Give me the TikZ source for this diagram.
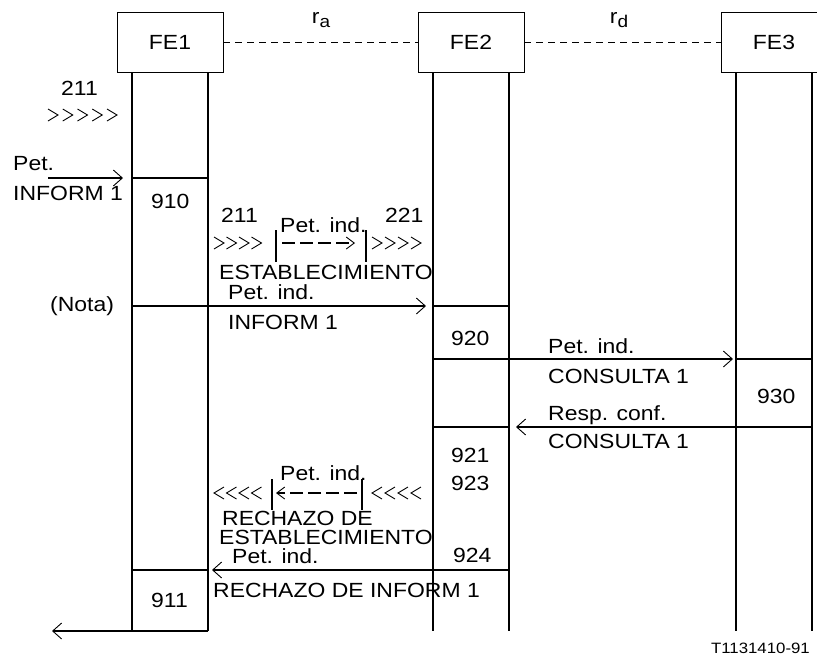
\documentclass[tikz,border=0pt]{standalone}
\usepackage{fontspec}
\setmainfont{Liberation Sans}[FakeStretch=1.12]
\usetikzlibrary{arrows.meta, positioning}

\begin{document}
\begin{tikzpicture}[x=1pt, y=-1pt,
      every node/.style={font=\fontsize{20.5}{24}\selectfont},
      fe/.style={draw, line width=0.9pt, minimum width=106pt,
                 minimum height=60pt, inner sep=0pt},
      link/.style={line width=0.8pt, dash pattern=on 7pt off 5pt},
      life/.style={line width=1.7pt},
      msg/.style={line width=1.7pt,
                  -{Straight Barb[length=9pt, width=16pt, line width=0.9pt]}},
      hop/.style={line width=1.5pt, dash pattern=on 13pt off 5pt,
                  -{Straight Barb[length=8pt, width=12pt, line width=0.9pt]}},
      chev/.style={line width=0.9pt},
      lbl/.style={anchor=base west, inner sep=0pt}]
    \useasboundingbox (0,0) rectangle (817,657);

    % entidades funcionales
    \node[fe] (fe1) at (170,42) {FE1};
    \node[fe] (fe2) at (471,42) {FE2};
    \node[fe] (fe3) at (774,42) {FE3};
    \draw[link] (fe1.east) -- (fe2.west);
    \draw[link] (fe2.east) -- (fe3.west);
    \node (ra) at (321,20) {r\raisebox{-0.35ex}{\fontsize{17}{18}\selectfont a}};
    \node (rd) at (619,20) {r\raisebox{-0.35ex}{\fontsize{17}{18}\selectfont d}};

    % lineas de vida
    \foreach \f in {fe1,fe2,fe3} {
      \draw[life] ([xshift=-38pt]\f.south) -- ++(0,559);
      \draw[life] ([xshift=38pt]\f.south) -- ++(0,559);
    }

    % separaciones de cajas
    \draw[life] (132,178) -- (208,178);
    \draw[life] (433,306) -- (509,306);
    \draw[life] (433,359) -- (509,359);
    \draw[life] (736,359) -- (812,359);
    \draw[life] (433,427) -- (509,427);
    \draw[life] (736,427) -- (812,427);
    \draw[life] (132,570) -- (208,570);

    % mensajes
    \coordinate (m1s) at (48,178);  \coordinate (m1e) at (123,178);
    \coordinate (m2s) at (132,306); \coordinate (m2e) at (426,306);
    \coordinate (m3s) at (509,359); \coordinate (m3e) at (733,359);
    \coordinate (m4s) at (812,427); \coordinate (m4e) at (516,427);
    \coordinate (m5s) at (509,570); \coordinate (m5e) at (212,570);
    \coordinate (m6s) at (208,631); \coordinate (m6e) at (52,631);
    \draw[msg] (m1s) -- (m1e);
    \draw[msg] (m2s) -- (m2e);
    \draw[msg] (m3s) -- (m3e);
    \draw[msg] (m4s) -- (m4e);
    \draw[msg] (m5s) -- (m5e);
    \draw[msg] (m6s) -- (m6e);

    % cadenas de flechas
    \foreach \cx in {53,67.75,82.5,97.25,112}
      \draw[chev] (\cx-5,109) -- (\cx+5,115) -- (\cx-5,121);
    \foreach \cx in {219,231.5,244,256.5,377,390,403,416}
      \draw[chev] (\cx-5,237) -- (\cx+5,243) -- (\cx-5,249);
    \foreach \cx in {219,231.5,244,256.5,377,390,403,416}
      \draw[chev] (\cx+5,487) -- (\cx-5,493) -- (\cx+5,499);

    \coordinate (b1t) at (276,230); \coordinate (b1b) at (276,262);
    \coordinate (b2t) at (366,230); \coordinate (b2b) at (366,262);
    \coordinate (h1s) at (282,243); \coordinate (h1e) at (355,243);
    \draw[line width=1.3pt] (b1t) -- (b1b);
    \draw[line width=1.3pt] (b2t) -- (b2b);
    \draw[hop] (h1s) -- (h1e);

    \coordinate (b3t) at (272,479); \coordinate (b3b) at (272,510);
    \coordinate (b4t) at (362,479); \coordinate (b4b) at (362,510);
    \coordinate (h2s) at (357,493); \coordinate (h2e) at (276,493);
    \draw[line width=1.3pt] (b3t) -- (b3b);
    \draw[line width=1.3pt] (b4t) -- (b4b);
    \draw[hop] (h2s) -- (h2e);

    % textos
    \node[lbl] (t211a) at (61,95) {211};
    \node[lbl] (tpet) at (13,170) {Pet.};
    \node[lbl] (tinf) at (13,200) {INFORM 1};
    \node[lbl] (t910) at (151,208) {910};
    \node[lbl] (t211b) at (221,222) {211};
    \node[lbl] (tpi1) at (280,232) {Pet. ind.};
    \node[lbl] (t221) at (385,222) {221};
    \node[lbl] (test1) at (219,279) {ESTABLECIMIENTO};
    \node[lbl] (tpi2) at (228,299) {Pet. ind.};
    \node[lbl] (tnota) at (50,311) {(Nota)};
    \node[lbl] (tinf2) at (228,329) {INFORM 1};
    \node[lbl] (t920) at (451,345) {920};
    \node[lbl] (tpi3) at (548,353) {Pet. ind.};
    \node[lbl] (tcon1) at (548,383) {CONSULTA 1};
    \node[lbl] (t930) at (757,403) {930};
    \node[lbl] (tresp) at (548,420) {Resp. conf.};
    \node[lbl] (tcon2) at (548,448) {CONSULTA 1};
    \node[lbl] (t921) at (451,462) {921};
    \node[lbl] (t923) at (451,490) {923};
    \node[lbl] (tpi4) at (280,480) {Pet. ind.};
    \node[lbl] (trech) at (222,525) {RECHAZO DE};
    \node[lbl] (test2) at (219,544) {ESTABLECIMIENTO};
    \node[lbl] (tpi5) at (232,563) {Pet. ind.};
    \node[lbl] (t924) at (453,562) {924};
    \node[lbl] (trech2) at (213,597) {RECHAZO DE INFORM 1};
    \node[lbl] (t911) at (151,607) {911};
    \node[anchor=base east, inner sep=0pt, font=\fontsize{15}{18}\selectfont]
      (tref) at (810,653) {T1131410-91};
  \end{tikzpicture}
\end{document}
